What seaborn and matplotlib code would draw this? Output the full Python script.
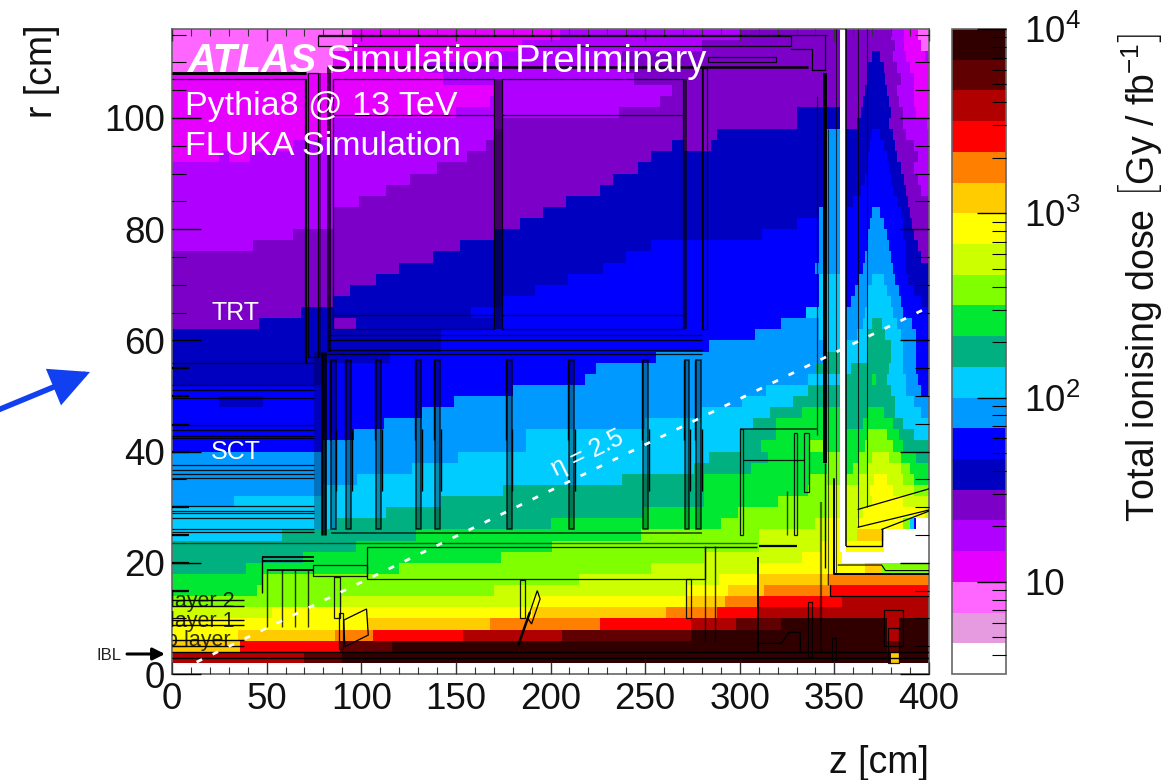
import numpy as np
import matplotlib
matplotlib.use('Agg')
import matplotlib.pyplot as plt
from matplotlib.colors import ListedColormap, LogNorm
from matplotlib.patches import Rectangle, Polygon
from matplotlib.ticker import FixedLocator, FixedFormatter, NullFormatter
import seaborn as sns

# Colour bands of the dose scale, 6 per decade from 10^0.5 to 10^4
band_colors = ['#ffffff', '#e69ae0', '#ff66ff', '#e600ff', '#b000ff', '#7d00c8', '#0000c0',
               '#0000ff', '#0099ff', '#00ccff', '#00b080', '#00e832', '#80ff00', '#ccff00',
               '#ffff00', '#ffcc00', '#ff8000', '#ff0000', '#b00000', '#600000', '#300000']

# Dose band along z, per 2 cm row: (z where the run ends, band). From r=114 down to r=22, z up to 353
core_runs = [
    [(95, 2), (205, 3), (300, 4), (353, 5)],
    [(95, 2), (185, 3), (280, 4), (353, 5)],
    [(85, 2), (170, 3), (238, 4), (353, 5)],
    [(85, 2), (135, 3), (240, 4), (353, 5)],
    [(143, 3), (244, 4), (353, 5)],
    [(170, 3), (264, 4), (353, 5)],
    [(168, 3), (258, 4), (353, 5)],
    [(150, 3), (236, 4), (330, 5), (353, 6)],
    [(85, 3), (175, 4), (330, 5), (353, 6)],
    [(85, 3), (170, 4), (288, 5), (346, 6), (353, 8)],
    [(64, 3), (166, 4), (264, 5), (270, 6), (285, 5), (346, 6), (353, 8)],
    [(25, 3), (30, 4), (41, 3), (156, 4), (253, 5), (346, 6), (353, 8)],
    [(140, 4), (246, 5), (346, 6), (353, 8)],
    [(126, 4), (233, 5), (346, 6), (353, 8)],
    [(113, 4), (226, 5), (346, 6), (353, 8)],
    [(99, 4), (208, 5), (346, 6), (353, 8)],
    [(85, 4), (196, 5), (342, 6), (353, 8)],
    [(85, 4), (184, 5), (330, 6), (342, 7), (353, 8)],
    [(64, 4), (170, 5), (312, 6), (342, 7), (353, 8)],
    [(43, 4), (152, 5), (253, 6), (342, 7), (353, 8)],
    [(138, 5), (240, 6), (342, 7), (353, 8)],
    [(120, 5), (228, 6), (340, 7), (353, 8)],
    [(108, 5), (209, 6), (342, 7), (353, 9)],
    [(94, 5), (192, 6), (342, 7), (353, 9)],
    [(85, 5), (175, 6), (342, 7), (353, 9)],
    [(68, 5), (158, 6), (335, 7), (353, 9)],
    [(46, 5), (85, 6), (97, 5), (170, 6), (322, 7), (342, 8), (353, 9)],
    [(142, 6), (308, 7), (342, 8), (353, 9)],
    [(142, 6), (284, 7), (346, 8), (353, 9)],
    [(115, 6), (256, 7), (346, 8), (353, 10)],
    [(80, 6), (224, 7), (340, 8), (353, 10)],
    [(80, 6), (218, 7), (336, 8), (353, 9)],
    [(180, 7), (314, 8), (336, 9), (353, 10)],
    [(25, 7), (48, 6), (149, 7), (301, 8), (328, 9), (353, 10)],
    [(132, 7), (280, 8), (316, 9), (333, 10), (353, 11)],
    [(112, 7), (250, 8), (307, 9), (319, 10), (353, 11)],
    [(96, 7), (187, 8), (300, 9), (319, 10), (353, 11)],
    [(80, 7), (187, 8), (300, 9), (311, 10), (337, 11), (346, 12), (353, 11)],
    [(151, 8), (284, 9), (315, 10), (346, 11), (353, 12)],
    [(127, 8), (276, 9), (306, 10), (346, 11), (353, 12)],
    [(98, 8), (238, 9), (281, 10), (337, 11), (353, 12)],
    [(80, 8), (175, 9), (281, 10), (336, 11), (346, 12), (353, 13)],
    [(33, 8), (142, 9), (281, 10), (320, 11), (346, 12), (353, 13)],
    [(113, 9), (249, 10), (299, 11), (346, 12), (353, 13)],
    [(87, 9), (200, 10), (290, 11), (340, 12), (346, 13), (353, 14)],
    [(58, 9), (129, 10), (248, 11), (310, 12), (346, 13), (353, 14)],
    [(97, 10), (201, 11), (310, 12), (343, 13), (353, 14)],
]

# Same rows, forward of the white gap: z from 356 to 400
forward_runs = [
    [(380, 5), (387, 4), (394, 3), (400, 2)],
    [(382, 5), (387, 4), (396, 3), (400, 2)],
    [(370, 5), (374, 6), (381, 5), (388, 4), (398, 3), (400, 4)],
    [(368, 5), (376, 6), (383, 5), (390, 4), (400, 3)],
    [(367, 5), (377, 6), (385, 5), (392, 4), (400, 3)],
    [(366, 5), (378, 6), (383, 5), (392, 4), (400, 3)],
    [(365, 5), (379, 6), (384, 5), (392, 4), (400, 3)],
    [(364, 5), (380, 6), (386, 5), (393, 4), (400, 3)],
    [(362, 5), (379, 6), (386, 5), (399, 4), (400, 3)],
    [(370, 6), (374, 7), (381, 6), (388, 5), (400, 4)],
    [(369, 6), (376, 7), (382, 6), (392, 5), (400, 4)],
    [(368, 6), (378, 7), (383, 6), (394, 5), (400, 4)],
    [(367, 6), (379, 7), (385, 6), (392, 5), (400, 4)],
    [(366, 6), (380, 7), (387, 6), (394, 5), (400, 4)],
    [(364, 6), (381, 7), (388, 6), (396, 5), (400, 4)],
    [(360, 6), (383, 7), (389, 6), (400, 5)],
    [(370, 7), (374, 8), (385, 7), (390, 6), (400, 5)],
    [(369, 7), (376, 8), (386, 7), (391, 6), (400, 5)],
    [(368, 7), (378, 8), (386, 7), (392, 6), (400, 5)],
    [(367, 7), (379, 8), (388, 7), (394, 6), (400, 5)],
    [(366, 7), (380, 8), (388, 7), (396, 6), (400, 5)],
    [(365, 7), (381, 8), (388, 7), (400, 6)],
    [(363, 7), (370, 8), (376, 9), (382, 8), (389, 7), (400, 6)],
    [(361, 7), (368, 8), (378, 9), (384, 8), (392, 7), (400, 6)],
    [(359, 7), (367, 8), (380, 9), (385, 8), (396, 7), (400, 6)],
    [(366, 8), (381, 9), (386, 8), (400, 7)],
    [(365, 8), (370, 9), (375, 10), (383, 9), (391, 8), (400, 7)],
    [(362, 8), (368, 9), (377, 10), (385, 9), (393, 8), (400, 7)],
    [(368, 9), (380, 10), (386, 9), (393, 8), (400, 7)],
    [(367, 9), (380, 10), (386, 9), (393, 8), (400, 7)],
    [(359, 9), (379, 10), (386, 9), (393, 8), (400, 7)],
    [(370, 10), (372, 11), (378, 10), (388, 9), (394, 8), (400, 7)],
    [(380, 10), (388, 9), (396, 8), (400, 7)],
    [(382, 10), (392, 9), (400, 8)],
    [(368, 10), (376, 11), (382, 10), (396, 9), (400, 8)],
    [(365, 10), (381, 11), (386, 10), (400, 9)],
    [(367, 11), (378, 12), (384, 11), (392, 10), (400, 9)],
    [(366, 11), (381, 12), (386, 11), (400, 10)],
    [(363, 11), (370, 12), (379, 13), (385, 12), (393, 11), (400, 10)],
    [(360, 11), (367, 12), (385, 13), (390, 12), (400, 11)],
    [(363, 12), (371, 13), (378, 14), (386, 13), (392, 12), (400, 11)],
    [(369, 13), (381, 14), (392, 13), (400, 12)],
    [(370, 13), (386, 14), (400, 13)],
    [(365, 13), (398, 14), (400, 13)],
    [(362, 13), (386, 14), (390, 12), (392, 9), (393, 7), (400, 0)],
    [(362, 13), (376, 15), (400, 0)],
    [(376, 14), (400, 0)],
]

# Rows closest to the beam line, r=20 down to r=0, full z range
beam_runs = [
    [(69, 10), (174, 11), (281, 12), (333, 13), (354, 14), (400, 0)],
    [(39, 10), (120, 11), (253, 12), (310, 13), (366, 14), (375, 15), (400, 12)],
    [(48, 11), (215, 12), (289, 13), (310, 14), (346, 15), (400, 16)],
    [(45, 11), (170, 12), (272, 13), (294, 14), (313, 15), (348, 16), (400, 17)],
    [(90, 12), (190, 13), (272, 14), (292, 15), (310, 16), (354, 17), (400, 18)],
    [(53, 13), (190, 14), (261, 15), (288, 16), (310, 17), (400, 18)],
    [(103, 14), (168, 15), (226, 16), (274, 17), (298, 18), (322, 19), (378, 20), (384, 18), (400, 20)],
    [(35, 14), (86, 15), (106, 16), (154, 17), (206, 18), (274, 19), (378, 20), (384, 18), (400, 20)],
    [(36, 15), (89, 17), (116, 19), (378, 20), (384, 19), (400, 20)],
    [(70, 18), (90, 19), (380, 20), (384, 15), (400, 20)],
    [(400, 0)],
]

x_tick_labels = ['0', '50', '100', '150', '200', '250', '300', '350', '400']
y_tick_labels = ['0', '20', '40', '60', '80', '100']
dose_tick_labels = ['10', '$10^{2}$', '$10^{3}$', '$10^{4}$']

# SCT end-cap disks, z of each one
disk_z = [84, 92, 108, 129, 139, 177, 210, 249, 271, 277]
# SCT barrel layers, r of each line
barrel_r = [55.9, 52, 51, 49.6, 44.8, 43.8, 42.8, 42.4, 37.6, 36.7, 36, 35.2, 30.3, 29.4, 28.9, 28, 26, 25.6]
# Short thick stubs at the left edge, r of each one
stub_r = [55, 50, 44.8, 40, 30, 25, 20, 15]


def expand_row(runs, start=0):
    cells = []
    for end, band in runs:
        cells += [band] * (end - start)
        start = end
    return cells


rows = []
for core, forward in zip(core_runs, forward_runs):
    rows.append(expand_row(core) + [0] * 3 + expand_row(forward, 356))
for runs in beam_runs:
    rows.append(expand_row(runs))

# 1 cm cells so that the heatmap's data coordinates are z and r in cm
bands = np.repeat(np.array(rows[::-1]), 2, axis=0)
dose = 10 ** (0.5 + (bands + 0.5) / 6)

sns.set_theme(style='white')
plt.rcParams['font.family'] = ['Liberation Sans', 'DejaVu Sans']
plt.rcParams['mathtext.fontset'] = 'custom'
plt.rcParams['mathtext.rm'] = 'Liberation Sans'
plt.rcParams['mathtext.it'] = 'Liberation Sans:italic'
plt.rcParams['mathtext.bf'] = 'Liberation Sans:bold'

W, H = 1162, 780
fig = plt.figure(figsize=(W / 100, H / 100), dpi=100)
ax = fig.add_axes([172 / W, 1 - 674 / H, 757 / W, 645 / H])
cax = fig.add_axes([952 / W, 1 - 674 / H, 54 / W, 645 / H])

sns.heatmap(dose, ax=ax, cbar_ax=cax, cmap=ListedColormap(band_colors),
            norm=LogNorm(10 ** 0.5, 1e4), xticklabels=False, yticklabels=False)
ax.set_xlim(0, 400)
ax.set_ylim(0, 116)

for spine in ax.spines.values():
    spine.set_visible(True)
    spine.set_color('#666666')
    spine.set_linewidth(1.2)
ax.set_axisbelow(False)

ax.xaxis.set_major_locator(FixedLocator(np.arange(0, 401, 50)))
ax.xaxis.set_minor_locator(FixedLocator(np.arange(0, 401, 10)))
ax.yaxis.set_major_locator(FixedLocator(np.arange(0, 101, 20)))
ax.yaxis.set_minor_locator(FixedLocator(np.arange(0, 116, 5)))
ax.set_xticklabels(x_tick_labels)
ax.set_yticklabels(y_tick_labels)
ax.tick_params(axis='x', which='major', direction='in', length=8.5, width=1, top=True, bottom=True,
               labelsize=26.5, pad=6, color='#333333', labelcolor='#111111')
ax.tick_params(axis='x', which='minor', direction='in', length=5, width=0.8, top=True, bottom=True, color='#333333')
ax.tick_params(axis='y', which='major', direction='in', length=21, width=1, left=True, right=True,
               labelsize=26.5, pad=5, color='black', labelcolor='#111111')
ax.tick_params(axis='y', which='minor', direction='in', length=10, width=0.8, left=True, right=True, color='black')

# Colour scale
cbar = ax.collections[0].colorbar
cbar.outline.set_edgecolor('#666666')
cbar.outline.set_linewidth(1.2)
cax.set_axisbelow(False)
cax.yaxis.set_major_locator(FixedLocator([10, 100, 1000, 10000]))
cax.yaxis.set_major_formatter(FixedFormatter(dose_tick_labels))
cax.yaxis.set_minor_locator(FixedLocator([m * d for d in [1, 10, 100, 1000] for m in range(2, 10) if m * d > 3.2]))
cax.yaxis.set_minor_formatter(NullFormatter())
cax.tick_params(axis='y', which='major', direction='in', length=21, width=1, right=True, left=False,
                labelright=True, labelleft=False, labelsize=26.5, pad=13, color='black', labelcolor='#111111')
cax.tick_params(axis='y', which='minor', direction='in', length=10, width=0.8, right=True, left=False, color='black')
for tick in cax.yaxis.get_major_ticks() + cax.yaxis.get_minor_ticks():
    tick.set_zorder(6)

# Detector outline
line_kws = dict(colors='black', linewidth=0.9, alpha=0.9, zorder=3)


def outline(z0, z1, r0, r1, **kws):
    ax.add_patch(Rectangle((z0, r0), z1 - z0, r1 - r0, fill=False, edgecolor='black',
                           linewidth=kws.get('lw', 0.9), alpha=kws.get('alpha', 0.9), zorder=3))


def shade(z0, z1, r0, r1, alpha=0.4):
    ax.add_patch(Rectangle((z0, r0), z1 - z0, r1 - r0, facecolor='black', edgecolor='none', alpha=alpha, zorder=2))


# TRT barrel and end-cap
ax.hlines([108], 0, 71, colors='black', linewidth=2.2, zorder=3)
ax.hlines([107], 0, 71, **line_kws)
ax.vlines([71], 56, 107, colors='black', linewidth=1.6, zorder=3)
outline(72, 77, 57, 108)
shade(77, 78.5, 57, 108)
shade(82, 84, 58, 109, alpha=0.7)
ax.hlines([109.2], 82, 336, colors='black', linewidth=1.8, zorder=3)
outline(85, 170, 62, 107)
ax.hlines([100.5, 64.5], 85, 170, **line_kws)
shade(170, 174.5, 62, 107, alpha=0.5)
outline(174.5, 270, 62, 107)
ax.hlines([100.5, 64.5], 174.5, 270, **line_kws)
shade(270, 272, 62, 107, alpha=0.6)
outline(280, 282.5, 62, 109)
shade(280, 281, 62, 109, alpha=0.7)
outline(77, 327, 113, 114.8)
outline(283, 319, 110, 111)
ax.hlines([115], 77, 346, **line_kws)
ax.plot([327, 338, 338, 345, 345], [112.4, 112.4, 108.6, 108.6, 115], color='black', lw=0.9, zorder=3)
ax.hlines([58.3, 57.6, 60, 61], 82, 280, **line_kws)

# Central support tube and forward walls
ax.vlines([345], 38, 108, colors='black', linewidth=2.8, zorder=3)
ax.vlines([345], 19, 38, colors='black', linewidth=1.0, zorder=3)
ax.vlines([341], 43, 104, colors='black', linewidth=0.9, alpha=0.7, zorder=3)
ax.vlines([346.7], 16, 98, colors='black', linewidth=0.8, alpha=0.7, zorder=3)
ax.vlines([351], 18, 116, colors='black', linewidth=0.8, alpha=0.7, zorder=3)
ax.vlines([356.4], 23, 116, colors='black', linewidth=1.1, zorder=3)
ax.vlines([362.5], 26.5, 116, colors='black', linewidth=0.8, alpha=0.8, zorder=3)
ax.vlines([367], 30, 116, colors='black', linewidth=0.8, alpha=0.8, zorder=3)
ax.plot([356.4, 375, 375], [23, 23, 26], color='black', lw=1, zorder=3)
ax.plot([375, 400], [26, 29.3], color='black', lw=0.9, zorder=3)
ax.plot([362.5, 400], [26.4, 29.5], color='black', lw=0.9, zorder=3)
ax.plot([362.5, 400], [29.6, 33.3], color='black', lw=0.9, zorder=3)
ax.plot([350, 350, 400], [35, 18, 18], color='black', lw=1.4, zorder=3)
ax.plot([352, 375, 377, 400], [19.6, 19.6, 18.6, 18.6], color='black', lw=0.8, zorder=3)
ax.plot([347.6, 347.6, 400], [16, 14, 14], color='black', lw=0.9, zorder=3)

# SCT end-cap disks and barrel layers
for z in disk_z:
    shade(z, z + 2.4, 26, 56.5, alpha=0.3)
    outline(z, z + 2.4, 26, 56.5, lw=1.1, alpha=0.8)
    ax.vlines([z - 0.6], 42, 56.5, colors='black', linewidth=1.0, zorder=3)
    ax.vlines([z + 2.9], 33, 44, colors='black', linewidth=1.0, zorder=3)
ax.hlines(barrel_r, 0, 75, **line_kws)
ax.hlines(stub_r, 0, 9, colors='black', linewidth=1.6, zorder=3)
ax.hlines([25.4], 84, 280, colors='black', linewidth=1.4, alpha=0.6, zorder=3)
ax.hlines([23.6], 0, 309, colors='black', linewidth=1.0, alpha=0.6, zorder=3)
shade(75, 82, 26, 58, alpha=0.25)
ax.vlines([79, 81], 25, 58, colors='black', linewidth=1.8, zorder=3)

# Pixel detector and services
ax.hlines([13.3, 12.3, 9.7, 8.8, 6.1, 5.1], 0, 38, colors='black', linewidth=1.0, zorder=3)
ax.hlines([21.1, 20.4], 47.3, 75, colors='black', linewidth=1.3, zorder=3)
ax.vlines([47.3], 14.5, 21, colors='black', linewidth=1, zorder=3)
ax.hlines([18.7], 50, 75, colors='black', linewidth=1.4, zorder=3)
ax.vlines([50, 58, 65, 72], 8.5, 18.7, colors='black', linewidth=1, alpha=0.8, zorder=3)
outline(74.6, 103, 17.6, 19.6)
outline(103, 281.5, 17.1, 22.9)
ax.hlines([22.9], 281.5, 309, colors='black', linewidth=1, zorder=3)
ax.hlines([23], 310, 330, colors='black', linewidth=1.6, zorder=3)
ax.vlines([281.5, 287], 5.8, 23, colors='black', linewidth=1, alpha=0.8, zorder=3)
ax.vlines([309.5], 4, 21, colors='black', linewidth=1.3, zorder=3)
outline(85.7, 88.7, 10, 17.5)
outline(88, 90.5, 4.5, 11)
ax.add_patch(Polygon([(90.8, 9.7), (102.8, 11.7), (103.7, 7), (91.3, 4.9)], fill=False, edgecolor='black', lw=0.9, zorder=3))
outline(183.7, 186.4, 10, 16.9)
outline(271.5, 274.2, 10, 17)
ax.plot([183, 189], [5.2, 11], color='black', lw=1.8, zorder=3)
ax.add_patch(Polygon([(188, 10), (193, 15), (194.5, 13.5), (190, 9)], fill=False, edgecolor='black', lw=0.9, zorder=3))
outline(300, 301.5, 25, 44)
ax.hlines([44], 300, 341, colors='black', linewidth=1.2, alpha=0.7, zorder=3)
ax.hlines([38.5], 301.5, 334, **line_kws)
outline(328.8, 330.3, 25, 43.4)
outline(334, 336.7, 32.8, 43.4)
ax.vlines([325], 25, 33, colors='black', linewidth=1, alpha=0.7, zorder=3)
ax.vlines([343], 4, 31, colors='black', linewidth=1.6, alpha=0.55, zorder=3)
ax.hlines([3.9, 2.8], 0, 400, colors='black', linewidth=1.0, zorder=3)
outline(376, 386, 5, 11.5)
outline(378.4, 384, 2, 8.3)
outline(336, 338, 3, 13)
outline(349, 351, 2.5, 6.5)
ax.plot([310, 322, 326, 332, 332], [5.5, 5.5, 7.5, 7.5, 4], color='black', lw=1, zorder=3)

# eta = 2.5 line
ax.plot([13, 400], [2.15, 66], color='white', lw=2, linestyle=(0, (2.2, 4.2)), zorder=4)

# Texts
ax.text(8.5, 108.2, 'ATLAS', color='white', fontsize=28.5, fontweight='bold', fontstyle='italic', zorder=5)
ax.text(81.4, 108.2, 'Simulation Preliminary', color='white', fontsize=27.5, zorder=5)
ax.text(7, 100.6, 'Pythia8 @ 13 TeV', color='white', fontsize=24.5, zorder=5)
ax.text(7, 93.3, 'FLUKA Simulation', color='white', fontsize=24.5, zorder=5)
ax.text(33.5, 65, 'TRT', color='white', fontsize=18, ha='center', va='center', zorder=5)
ax.text(33.5, 40, 'SCT', color='white', fontsize=18, ha='center', va='center', zorder=5)
ax.text(-1, 13, 'layer 2', color='black', fontsize=15.5, va='center', alpha=0.8, clip_on=True, zorder=5)
ax.text(-1, 9.5, 'layer 1', color='black', fontsize=15.5, va='center', alpha=0.8, clip_on=True, zorder=5)
ax.text(-3, 6, 'b layer', color='black', fontsize=15.5, va='center', alpha=0.8, clip_on=True, zorder=5)
ax.text(203, 35.5, 'η = 2.5', color='white', fontsize=18, rotation=26, rotation_mode='anchor', ha='left', va='baseline',
        zorder=5)

fig.text(97 / W, 1 - 655 / H, 'IBL', color='#222222', fontsize=12, va='center')
ax.annotate('', xy=(165, H - 654), xytext=(127, H - 654), xycoords='figure pixels', textcoords='figure pixels',
            annotation_clip=False, arrowprops=dict(arrowstyle='-|>', color='black', lw=2.2, mutation_scale=18, shrinkA=0, shrinkB=0))
ax.annotate('', xy=(90, H - 372), xytext=(-2, H - 410), xycoords='figure pixels', textcoords='figure pixels',
            annotation_clip=False, arrowprops=dict(arrowstyle='-|>', color='#1040f0', lw=4, mutation_scale=55, shrinkA=0,
                                                   shrinkB=0, joinstyle='miter'))

fig.text(42 / W, 1 - 25 / H, 'r [cm]', fontsize=27, rotation=90, ha='center', va='top', color='#111111')
fig.text(929 / W, 1 - 763 / H, 'z [cm]', fontsize=27, ha='right', va='center', color='#111111')
fig.text(1140 / W, 1 - 522 / H, r'Total ionising dose $\left[\mathrm{Gy\ /\ fb^{-1}}\right]$', fontsize=27,
         rotation=90, ha='center', va='bottom', color='#111111')

fig.savefig('out.png', dpi=100, facecolor='white')
